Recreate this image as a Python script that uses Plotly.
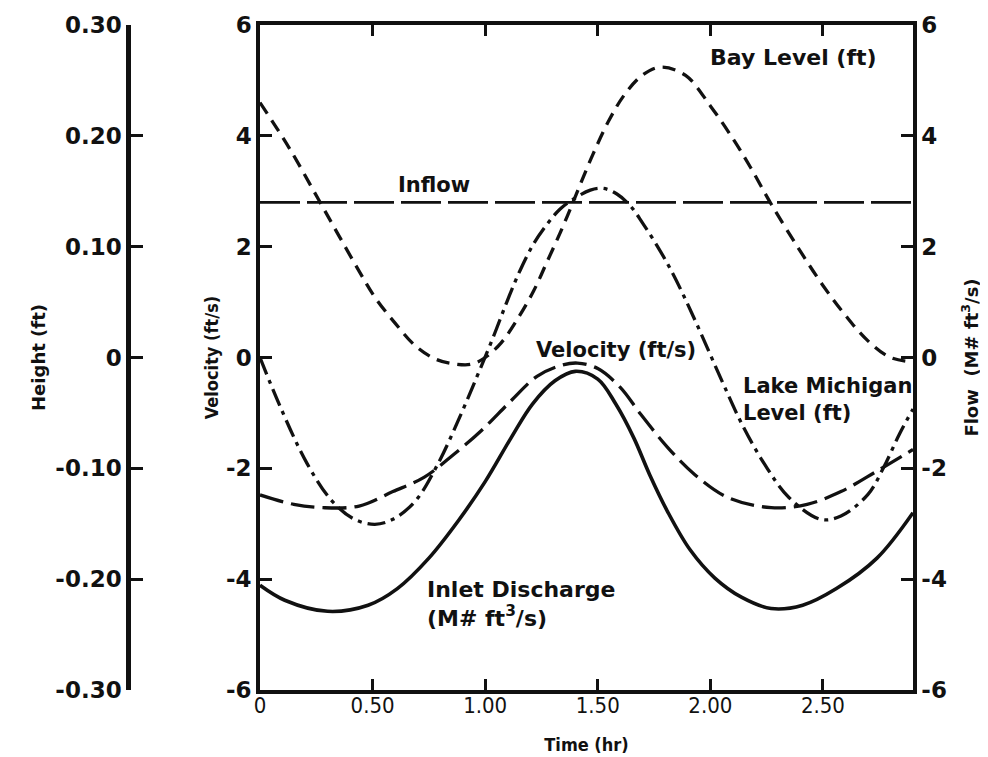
import plotly.graph_objects as go

# ---------------- data ----------------
# Bay Level (ft)  -- height axis
bay_t = [0.0, 0.13, 0.26, 0.35, 0.44, 0.51, 0.60, 0.69, 0.78, 0.87, 0.94, 1.00, 1.07, 1.14,
         1.215, 1.274, 1.333, 1.378, 1.42, 1.48, 1.55, 1.62, 1.70, 1.78, 1.89, 2.00, 2.10,
         2.18, 2.27, 2.39, 2.50, 2.60, 2.70, 2.80, 2.90]
bay_h = [0.230, 0.189, 0.1425, 0.110, 0.078, 0.0545, 0.031, 0.0105, -0.0015, -0.006, -0.006,
         0.0, 0.013, 0.0335, 0.060, 0.086, 0.1125, 0.134, 0.155, 0.184, 0.214, 0.2375, 0.255,
         0.262, 0.2545, 0.227, 0.1975, 0.171, 0.1385, 0.099, 0.065, 0.038, 0.015, 0.0, -0.004]

# Lake Michigan Level (ft)  -- height axis
lake_t = [0.0, 0.09, 0.21, 0.32, 0.42, 0.51, 0.59, 0.69, 0.79, 0.88, 0.963, 1.037, 1.096,
          1.156, 1.215, 1.274, 1.333, 1.393, 1.467, 1.526, 1.585, 1.644, 1.70, 1.763, 1.822,
          1.88, 1.94, 2.00, 2.06, 2.14, 2.24, 2.35, 2.49, 2.58, 2.70, 2.77, 2.84, 2.90]
lake_h = [0.0, -0.0445, -0.096, -0.1295, -0.146, -0.1505, -0.146, -0.1295, -0.096, -0.057,
          -0.0175, 0.019, 0.050, 0.079, 0.1025, 0.120, 0.134, 0.143, 0.151, 0.1525, 0.1475,
          0.137, 0.121, 0.101, 0.080, 0.0565, 0.030, 0.0025, -0.025, -0.060, -0.096, -0.1265,
          -0.146, -0.143, -0.1235, -0.099, -0.069, -0.0465]

# Velocity (ft/s)
vel_t = [0.0, 0.15, 0.28, 0.44, 0.59, 0.73, 0.86, 0.98, 1.115, 1.23, 1.33, 1.41, 1.50, 1.60,
         1.69, 1.81, 1.93, 2.08, 2.27, 2.43, 2.58, 2.74, 2.90]
vel_v = [-2.48, -2.65, -2.71, -2.68, -2.42, -2.16, -1.75, -1.33, -0.78, -0.34, -0.15, -0.10,
         -0.20, -0.54, -1.02, -1.62, -2.11, -2.53, -2.71, -2.65, -2.42, -2.05, -1.66]

# Inlet Discharge (M# ft^3/s)
dis_t = [0.0, 0.11, 0.30, 0.48, 0.61, 0.75, 0.88, 1.00, 1.115, 1.21, 1.31, 1.40, 1.50, 1.58,
         1.66, 1.73, 1.81, 1.91, 2.02, 2.14, 2.27, 2.41, 2.56, 2.74, 2.90]
dis_q = [-4.11, -4.38, -4.58, -4.47, -4.17, -3.62, -2.95, -2.24, -1.45, -0.84, -0.42, -0.25,
         -0.39, -0.84, -1.45, -2.11, -2.78, -3.47, -3.98, -4.33, -4.53, -4.47, -4.17, -3.62,
         -2.80]

# Inflow (M# ft^3/s)
inflow_t = [0.0, 2.90]
inflow_q = [2.80, 2.80]

# tick labels
x_ticks = [0, 0.5, 1.0, 1.5, 2.0, 2.5]
x_ticktext = ["0", "0.50", "1.00", "1.50", "2.00", "2.50"]
v_ticks = [-6, -4, -2, 0, 2, 4, 6]
v_ticktext = ["-6", "-4", "-2", "0", "2", "4", "6"]
h_ticks = [-0.30, -0.20, -0.10, 0, 0.10, 0.20, 0.30]
h_ticktext = ["-0.30", "-0.20", "-0.10", "0", "0.10", "0.20", "0.30"]

# ---------------- figure ----------------
WIDE = "DejaVu Sans, Verdana, sans-serif"
COND = "DejaVu Sans Condensed, DejaVu Sans, sans-serif"
INK = "#111111"
LW = 3.3

fig = go.Figure()
fig.add_trace(go.Scatter(x=bay_t, y=bay_h, yaxis="y3", mode="lines", line_shape="spline",
                         line=dict(color=INK, width=LW, dash="13px,8px"), name="Bay Level (ft)"))
fig.add_trace(go.Scatter(x=lake_t, y=lake_h, yaxis="y3", mode="lines", line_shape="spline",
                         line=dict(color=INK, width=LW, dash="18px,6px,4px,6px"),
                         name="Lake Michigan Level (ft)"))
fig.add_trace(go.Scatter(x=vel_t, y=vel_v, yaxis="y", mode="lines", line_shape="spline",
                         line=dict(color=INK, width=LW, dash="24px,8px"), name="Velocity (ft/s)"))
fig.add_trace(go.Scatter(x=dis_t, y=dis_q, yaxis="y2", mode="lines", line_shape="spline",
                         line=dict(color=INK, width=3.6), name="Inlet Discharge"))
fig.add_trace(go.Scatter(x=inflow_t, y=inflow_q, yaxis="y2", mode="lines",
                         line=dict(color=INK, width=2.6, dash="40px,7px"), name="Inflow"))

# page body has an 8px default margin; margins compensate for it
W, H = 988, 757
L, R, T, B = 12, 83, 17, 75
pw = W - L - R
x0 = (260 - 8 - L) / pw
hpos = (128 - 8 - L) / pw

tickfont = dict(family=WIDE, size=23, color=INK, weight="bold")
titlefont = dict(family=WIDE, size=18, color=INK, weight="bold")
fig.update_layout(
    width=W, height=H,
    margin=dict(l=L, r=R, t=T, b=B, autoexpand=False),
    paper_bgcolor="white", plot_bgcolor="white",
    showlegend=False,
    font=dict(family=WIDE, color=INK),
    xaxis=dict(domain=[x0, 1], range=[0, 2.9], tickmode="array", tickvals=x_ticks,
               ticktext=x_ticktext, ticks="inside", ticklen=11, tickwidth=2.5, tickcolor=INK,
               showline=True, linewidth=3.5, linecolor=INK, mirror="ticks", showgrid=False,
               zeroline=False, tickfont=dict(family=COND, size=22, color=INK),
               ticklabelstandoff=-7,
               title=dict(text="Time (hr)", font=dict(family=COND, size=18, color=INK,
                                                      weight="bold"),
                          standoff=22)),
    yaxis=dict(range=[-6, 6], tickmode="array", tickvals=v_ticks, ticktext=v_ticktext,
               ticks="inside", ticklen=12, tickwidth=2.5, tickcolor=INK, showline=True,
               linewidth=3.5, linecolor=INK, showgrid=False, zeroline=False,
               tickfont=tickfont,
               title=dict(text="Velocity (ft/s)", font=dict(family=COND, size=18, color=INK,
                                                            weight="bold"),
                          standoff=4)),
    yaxis2=dict(range=[-6, 6], overlaying="y", side="right", anchor="x", tickmode="array",
                tickvals=v_ticks, ticktext=v_ticktext, ticks="inside", ticklen=12,
                tickwidth=2.5, tickcolor=INK, showline=True, linewidth=3.5, linecolor=INK,
                showgrid=False, zeroline=False, tickfont=tickfont,
                title=dict(text="Flow  (M# ft<sup>3</sup>/s)", font=titlefont, standoff=20)),
    yaxis3=dict(range=[-0.3, 0.3], overlaying="y", side="left", anchor="free", position=hpos,
                tickmode="array", tickvals=h_ticks, ticktext=h_ticktext, ticks="inside",
                ticklen=12, tickwidth=2.5, tickcolor=INK, showline=True, linewidth=4.5,
                linecolor=INK, showgrid=False, zeroline=False, tickfont=tickfont,
                title=dict(text="Height (ft)", font=titlefont, standoff=4)),
)

afont = dict(family=WIDE, size=22, color=INK, weight="bold")
fig.add_annotation(x=2.37, y=5.41, xref="x", yref="y", text="Bay Level (ft)", showarrow=False,
                   font=afont)
fig.add_annotation(x=0.773, y=3.12, xref="x", yref="y", text="Inflow", showarrow=False,
                   font=dict(family=WIDE, size=21, color=INK, weight="bold"))
fig.add_annotation(x=1.58, y=0.14, xref="x", yref="y", text="Velocity (ft/s)",
                   showarrow=False, font=dict(family=WIDE, size=21, color=INK, weight="bold"))
fig.add_annotation(x=2.135, y=-0.76, xref="x", yref="y", xanchor="left",
                   text="Lake Michigan<br>Level (ft)", align="left", showarrow=False,
                   font=dict(family=WIDE, size=21, color=INK, weight="bold"))
fig.add_annotation(x=0.733, y=-4.44, xref="x", yref="y", xanchor="left",
                   text="Inlet Discharge<br>(M# ft<sup>3</sup>/s)", align="left",
                   showarrow=False, font=afont)

fig.write_html("out.html")
